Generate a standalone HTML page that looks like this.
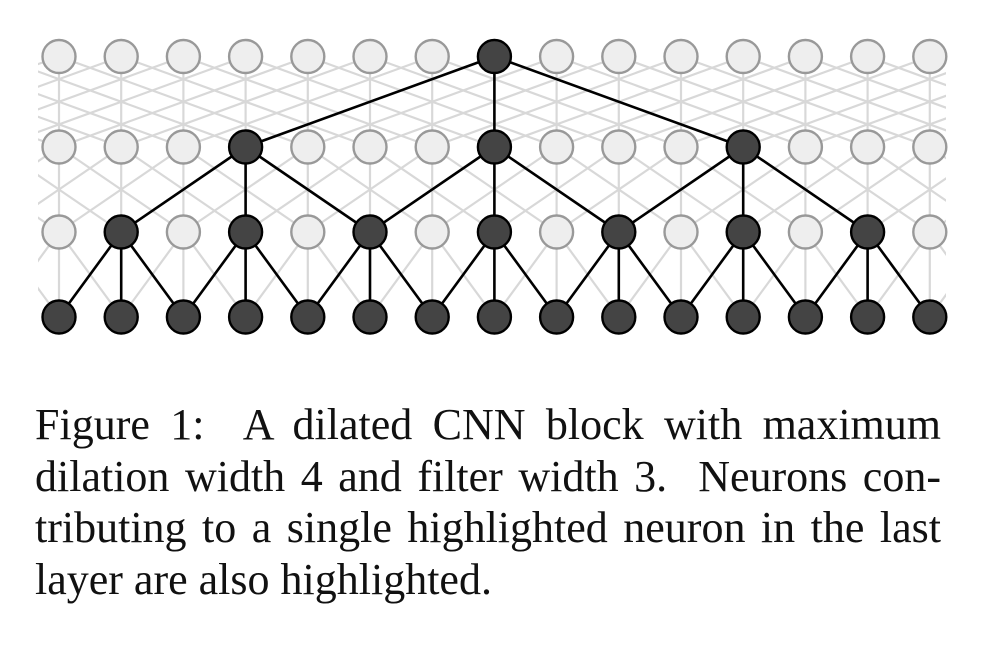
<!DOCTYPE html>
<html><head><meta charset="utf-8">
<style>
html,body{margin:0;padding:0;background:#fff;}
body{width:984px;height:660px;position:relative;overflow:hidden;}
svg{position:absolute;left:0;top:0;}
.cap{position:absolute;left:35px;width:906px;font-family:"Liberation Serif",serif;font-size:44px;line-height:52px;color:#111;white-space:nowrap;}
.j{text-align:justify;text-align-last:justify;}
</style></head><body>
<svg id="s" width="984" height="360" viewBox="0 0 984 360">
<defs><clipPath id="c"><rect x="38" y="0" width="908" height="360"/></clipPath></defs>
<g id="gray" clip-path="url(#c)" stroke="#d8d8d8" stroke-width="2.2" fill="none"></g>
<g id="black" stroke="#000" stroke-width="2.6" fill="none"></g>
<g id="nodes"></g>
</svg>
<div class="cap j" style="top:399px;">Figure 1:&nbsp; A dilated CNN block with maximum</div>
<div class="cap j" style="top:451px;">dilation width 4 and filter width 3.&nbsp; Neurons con-</div>
<div class="cap j" style="top:502px;">tributing to a single highlighted neuron in the last</div>
<div class="cap" style="top:554px;">layer are also highlighted.</div>
<script>
(function(){
var NS="http://www.w3.org/2000/svg";
function X(i){return 59+i*62.2;}
var Y=[56.5,147,232,317];
var dil=[4,2,1];
function el(p,t,a){var e=document.createElementNS(NS,t);for(var k in a)e.setAttribute(k,a[k]);p.appendChild(e);return e;}
var g=document.getElementById("gray"),b=document.getElementById("black"),n=document.getElementById("nodes");
for(var r=0;r<3;r++){var d=dil[r];
 for(var i=-d;i<15+d;i++){for(var o=-1;o<=1;o++){var j=i+o*d;
  if(j<-d||j>=15+d)continue;
  el(g,"line",{x1:X(i),y1:Y[r],x2:X(j),y2:Y[r+1]});}}}
var hi=[[7],[3,7,11],[1,3,5,7,9,11,13],[0,1,2,3,4,5,6,7,8,9,10,11,12,13,14]];
for(var r=0;r<3;r++){var d=dil[r];
 hi[r].forEach(function(i){for(var o=-1;o<=1;o++){var j=i+o*d;
  el(b,"line",{x1:X(i),y1:Y[r],x2:X(j),y2:Y[r+1]});}});}
for(var r=0;r<4;r++)for(var i=0;i<15;i++){
 var h=hi[r].indexOf(i)>=0;
 el(n,"circle",{cx:X(i),cy:Y[r],r:16.5,fill:h?"#444":"#eeeeee",stroke:h?"#000":"#999","stroke-width":2.4});}
})();
</script>
</body></html>
